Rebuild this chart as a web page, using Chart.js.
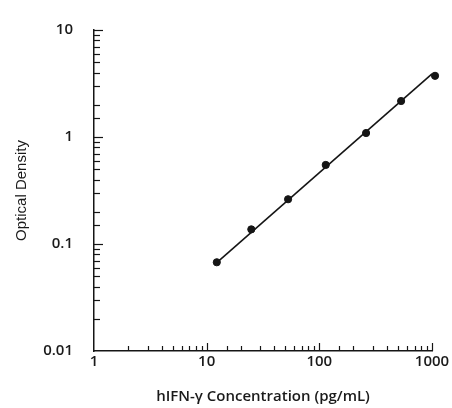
<!DOCTYPE html>
<html>
<head>
<meta charset="utf-8">
<script src="https://cdn.jsdelivr.net/npm/chart.js@4"></script>
<style>
  html, body { margin: 0; padding: 0; background: #fff; }
  #wrap { width: 452px; height: 408px; }
</style>
</head>
<body>
<div id="wrap"><canvas id="chart" width="452" height="408"></canvas></div>
<script>
// standard curve readings (pg/mL vs OD)
const concentrations = [12.3, 24.9, 52.8, 114, 260, 532, 1064];
const densities = [0.0675, 0.137, 0.262, 0.548, 1.09, 2.17, 3.73];

// fitted line end points
const fitX = [12.3, 1000];
const fitY = [0.067, 3.89];

const xLabels = [1, 10, 100, 1000];
const yLabels = [0.01, 0.1, 1, 10];

const ink = "#151515";

function isDecade(v) {
    const l = Math.log10(v);
    return Math.abs(l - Math.round(l)) < 1e-6;
}

// tick marks drawn inside the plot, long at decades
const innerTicks = {
    id: "innerTicks",
    afterDraw(chart) {
        const ctx = chart.ctx;
        ctx.save();
        ctx.strokeStyle = ink;
        ctx.lineWidth = 1.2;
        const xs = chart.scales.x;
        const ys = chart.scales.y;
        xs.ticks.forEach(t => {
            if (t.value <= xs.min) return;
            const px = Math.round(xs.getPixelForValue(t.value)) + 0.5;
            const len = isDecade(t.value) ? 8 : 5;
            ctx.beginPath();
            ctx.moveTo(px, xs.top);
            ctx.lineTo(px, xs.top - len);
            ctx.stroke();
        });
        ys.ticks.forEach(t => {
            if (t.value <= ys.min) return;
            const py = Math.round(ys.getPixelForValue(t.value)) + 0.5;
            const len = isDecade(t.value) ? 9 : 6;
            ctx.beginPath();
            ctx.moveTo(ys.right, py);
            ctx.lineTo(ys.right + len, py);
            ctx.stroke();
        });
        ctx.restore();
    }
};

new Chart(document.getElementById("chart"), {
    type: "scatter",
    data: {
        datasets: [
            {
                label: "fit",
                type: "line",
                data: fitX.map((x, i) => ({ x, y: fitY[i] })),
                borderColor: ink,
                borderWidth: 1.6,
                pointRadius: 0,
                fill: false,
                clip: false
            },
            {
                label: "standards",
                data: concentrations.map((x, i) => ({ x, y: densities[i] })),
                backgroundColor: ink,
                borderColor: ink,
                pointRadius: 3.6,
                clip: false
            }
        ]
    },
    options: {
        responsive: false,
        animation: false,
        layout: { padding: { top: 28, right: 20, left: 0, bottom: 0 } },
        plugins: { legend: { display: false }, tooltip: { enabled: false } },
        scales: {
            x: {
                type: "logarithmic",
                min: 1,
                max: 1000,
                grid: { display: false, drawTicks: false },
                border: { display: true, color: ink, width: 1.5 },
                afterFit: s => { s.height = 57; },
                ticks: {
                    autoSkip: false,
                    maxRotation: 0,
                    padding: 2,
                    color: "#1a1a1a",
                    font: { family: "Open Sans", size: 15, weight: "600" },
                    callback: v => xLabels.includes(v) ? String(v) : ""
                },
                title: {
                    display: true,
                    text: "hIFN-\u03B3 Concentration (pg/mL)",
                    color: "#1a1a1a",
                    font: { family: "Open Sans", size: 15, weight: "600" },
                    padding: { top: 0, bottom: 2 }
                }
            },
            y: {
                type: "logarithmic",
                min: 0.01,
                max: 10,
                grid: { display: false, drawTicks: false },
                border: { display: true, color: ink, width: 1.5 },
                afterFit: s => { s.width = 94; },
                ticks: {
                    autoSkip: false,
                    padding: 21,
                    color: "#1a1a1a",
                    font: { family: "Open Sans", size: 15, weight: "600" },
                    callback: v => yLabels.some(l => Math.abs(l - v) < 1e-9) ? String(v) : ""
                },
                title: {
                    display: true,
                    text: "Optical Density",
                    color: "#1a1a1a",
                    font: { family: "Liberation Sans", size: 15 },
                    padding: { top: 13, bottom: 0 }
                }
            }
        }
    },
    plugins: [innerTicks]
});
</script>
</body>
</html>
